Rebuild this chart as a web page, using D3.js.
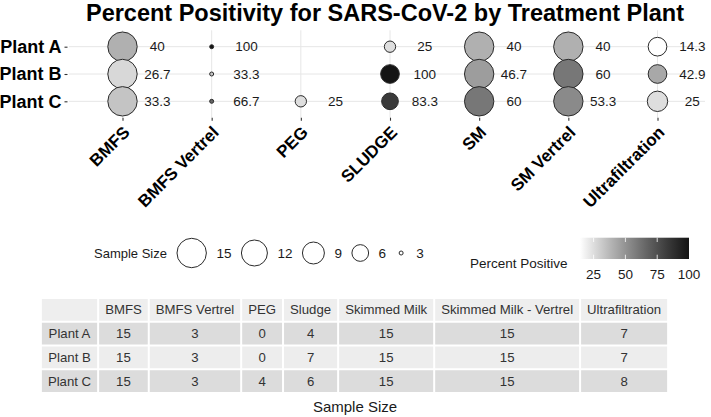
<!DOCTYPE html>
<html><head><meta charset="utf-8">
<script src="https://cdn.jsdelivr.net/npm/d3@7/dist/d3.min.js"></script>
<style>body{margin:0;background:#fff;} svg{display:block;font-family:"Liberation Sans",Arial,sans-serif;}</style>
</head><body>
<svg id="chart" width="711" height="417"></svg>
<script>
const categories = ["BMFS","BMFS Vertrel","PEG","SLUDGE","SM","SM Vertrel","Ultrafiltration"];
const plants = ["Plant A","Plant B","Plant C"];
const pctPlantA = [40, 100, null, 25, 40, 40, 14.3];
const pctPlantB = [26.7, 33.3, null, 100, 46.7, 60, 42.9];
const pctPlantC = [33.3, 66.7, 25, 83.3, 60, 53.3, 25];
const nPlantA = [15, 3, 0, 4, 15, 15, 7];
const nPlantB = [15, 3, 0, 7, 15, 15, 7];
const nPlantC = [15, 3, 4, 6, 15, 15, 8];
const tableCols = ["BMFS","BMFS Vertrel","PEG","Sludge","Skimmed Milk","Skimmed Milk - Vertrel","Ultrafiltration"];
const sizeLegendValues = [15, 12, 9, 6, 3];
const colorTicks = [25, 50, 75, 100];
const labelText = v => String(v);

const pctRows = [pctPlantA, pctPlantB, pctPlantC];
const nRows = [nPlantA, nPlantB, nPlantC];
const data = [];
plants.forEach((p, i) => categories.forEach((c, j) => {
  if (pctRows[i][j] != null && nRows[i][j] > 0) data.push({plant: p, cat: c, pct: pctRows[i][j], n: nRows[i][j]});
}));

const svg = d3.select("#chart");
const panel = {l: 69, r: 711, t: 30.3, b: 117.7};

const x = d3.scalePoint().domain(categories).range([panel.l, panel.r]).padding(0.6);
const y = d3.scalePoint().domain(plants).range([panel.t, panel.b]).padding(0.6);
const nAll = [].concat(nPlantA, nPlantB, nPlantC).filter(v => v > 0);
const sizeNorm = d3.scaleLinear().domain(d3.extent(nAll)).range([0, 1]);
const rS = d3.scaleSqrt().domain([0, 1]).range([2, 14.7]);
const r = n => rS(sizeNorm(n));
const pctAll = [].concat(pctPlantA, pctPlantB, pctPlantC).filter(v => v != null);
const color = d3.scaleLinear().domain(d3.extent(pctAll)).range(["#ffffff", "#141414"]).interpolate(d3.interpolateLab);

// title
svg.append("text").attr("x", 385).attr("y", 21).attr("text-anchor", "middle")
  .style("font-size", "23.5px").style("font-weight", "bold").attr("fill", "#000")
  .text("Percent Positivity for SARS-CoV-2 by Treatment Plant");

// grid
const g = svg.append("g");
g.selectAll(".vg").data(categories).join("line")
  .attr("x1", d => x(d)).attr("x2", d => x(d)).attr("y1", panel.t).attr("y2", panel.b)
  .attr("stroke", "#e6e6e6").attr("stroke-width", 1);
g.selectAll(".hg").data(plants).join("line")
  .attr("x1", panel.l).attr("x2", panel.r - 6).attr("y1", d => y(d)).attr("y2", d => y(d))
  .attr("stroke", "#e6e6e6").attr("stroke-width", 1);

// axes
const yAxis = svg.append("g").attr("transform", `translate(${panel.l - 1.5},0)`)
  .call(d3.axisLeft(y).tickSize(3).tickPadding(3));
yAxis.select(".domain").remove();
yAxis.selectAll("line").attr("stroke", "#333").attr("stroke-width", 1.1);
yAxis.selectAll("text").style("font-size", "18px").style("font-weight", "bold").attr("fill", "#000")
  .style("font-family", "Liberation Sans, Arial, sans-serif");

const xAxis = svg.append("g").attr("transform", `translate(0,${panel.b})`)
  .call(d3.axisBottom(x).tickSize(3).tickPadding(0));
xAxis.select(".domain").remove();
xAxis.selectAll("line").attr("stroke", "#333").attr("stroke-width", 1.1);
xAxis.selectAll("text").style("font-size", "17px").style("font-weight", "bold").attr("fill", "#000")
  .style("font-family", "Liberation Sans, Arial, sans-serif")
  .attr("text-anchor", "end").attr("dy", "0.72em")
  .attr("transform", "translate(-1,7) rotate(-45)").attr("y", 0).attr("x", 0);

// circles
svg.append("g").selectAll("circle").data(data).join("circle")
  .attr("cx", d => x(d.cat)).attr("cy", d => y(d.plant)).attr("r", d => r(d.n))
  .attr("fill", d => color(d.pct)).attr("stroke", "#2a2a2a").attr("stroke-width", 1);

// value labels
svg.append("g").selectAll("text").data(data).join("text")
  .attr("x", d => x(d.cat) + x.step() * 0.39).attr("y", d => y(d.plant)).attr("dy", "0.35em")
  .attr("text-anchor", "middle").style("font-size", "13.5px").attr("fill", "#1a1a1a")
  .text(d => labelText(d.pct));

// size legend
const legY = 253;
const sl = svg.append("g");
const sTitle = sl.append("text").attr("x", 94).attr("y", legY).attr("dy", "0.35em")
  .style("font-size", "13px").attr("fill", "#1a1a1a").text("Sample Size");
let cursor = 94 + sTitle.node().getComputedTextLength() + 9;
sizeLegendValues.forEach(v => {
  const rr = r(v);
  const kw = Math.max(2 * rr + 2, 12);
  sl.append("circle").attr("cx", cursor + kw / 2).attr("cy", legY).attr("r", rr)
    .attr("fill", "#fff").attr("stroke", "#2a2a2a").attr("stroke-width", 1);
  const t = sl.append("text").attr("x", cursor + kw + 9).attr("y", legY).attr("dy", "0.35em")
    .style("font-size", "13.5px").attr("fill", "#1a1a1a").text(v);
  cursor = cursor + kw + 9 + t.node().getComputedTextLength() + 9;
});

// color legend
const cl = svg.append("g");
cl.append("text").attr("x", 470).attr("y", 263).attr("dy", "0.35em")
  .style("font-size", "13.5px").attr("fill", "#1a1a1a").text("Percent Positive");
const cx = d3.scaleLinear().domain(color.domain()).range([580, 689]);
const grad = svg.append("defs").append("linearGradient").attr("id", "pg")
  .attr("x1", "0%").attr("x2", "100%").attr("y1", "0%").attr("y2", "0%");
d3.range(0, 1.0001, 0.05).forEach(t => {
  const v = color.domain()[0] + t * (color.domain()[1] - color.domain()[0]);
  grad.append("stop").attr("offset", (t * 100) + "%").attr("stop-color", color(v));
});
cl.append("rect").attr("x", cx.range()[0]).attr("y", 237.7).attr("width", cx.range()[1] - cx.range()[0])
  .attr("height", 21.3).attr("fill", "url(#pg)");
colorTicks.filter(v => v < 100).forEach(v => {
  cl.append("line").attr("x1", cx(v)).attr("x2", cx(v)).attr("y1", 237.7).attr("y2", 242)
    .attr("stroke", "#fff").attr("stroke-width", 1).attr("opacity", 0.8);
  cl.append("line").attr("x1", cx(v)).attr("x2", cx(v)).attr("y1", 254.7).attr("y2", 259)
    .attr("stroke", "#fff").attr("stroke-width", 1).attr("opacity", 0.8);
});
cl.selectAll(".ct").data(colorTicks).join("text").attr("x", d => cx(d)).attr("y", 274).attr("dy", "0.35em")
  .attr("text-anchor", "middle").style("font-size", "13.5px").attr("fill", "#1a1a1a").text(d => d);

// table
const tbl = svg.append("g");
const header = [""].concat(tableCols);
const rows = plants.map((p, i) => [p].concat(nRows[i].map(String)));
const allRows = [header].concat(rows);
const tFont = "13.2px";
const meas = svg.append("text").style("font-size", tFont);
const colW = header.map((_, j) => d3.max(allRows, rw => { meas.text(rw[j]); return meas.node().getComputedTextLength(); }) + 14);
meas.remove();
const totalW = d3.sum(colW);
const tx0 = 354.5 - totalW / 2;
const colX = [tx0];
colW.forEach((w, j) => colX.push(colX[j] + w));
const rowY = d3.scaleBand().domain(d3.range(allRows.length)).range([298, 393]).paddingInner(0);
const fills = ["#eeeeee", "#dcdcdc", "#ededed", "#dcdcdc"];
allRows.forEach((rw, i) => {
  rw.forEach((cell, j) => {
    tbl.append("rect").attr("x", colX[j] + 1).attr("y", rowY(i) + 1)
      .attr("width", colW[j] - 2).attr("height", rowY.bandwidth() - 2).attr("fill", fills[i]);
    tbl.append("text").attr("x", colX[j] + colW[j] / 2).attr("y", rowY(i) + rowY.bandwidth() / 2)
      .attr("dy", "0.35em").attr("text-anchor", "middle").style("font-size", tFont)
      .attr("fill", "#333").text(cell);
  });
});
svg.append("text").attr("x", 355).attr("y", 407).attr("dy", "0.35em").attr("text-anchor", "middle")
  .style("font-size", "15px").attr("fill", "#1a1a1a").text("Sample Size");
</script>
</body></html>
